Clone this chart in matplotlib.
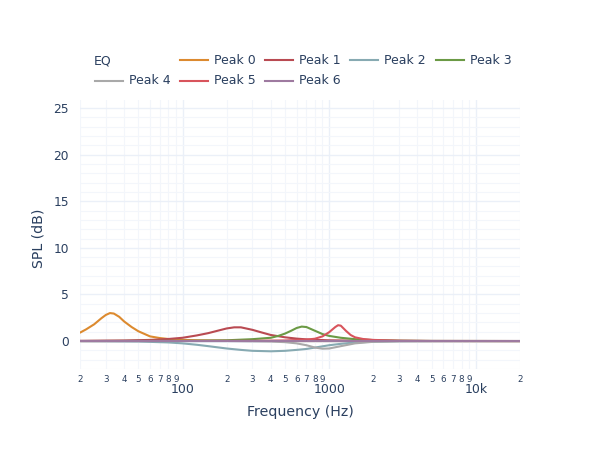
import matplotlib
matplotlib.use("Agg")
from matplotlib import pyplot as plt
from matplotlib.lines import Line2D

# EQ peaks, values (Hz, dB)
peak0_f = [20, 22, 25, 28, 30, 32, 34, 37, 40, 45, 50, 60, 70, 80, 100, 125, 150, 200, 300, 500, 20000]
peak0_db = [0.9, 1.25, 1.8, 2.45, 2.8, 3.0, 2.95, 2.6, 2.1, 1.5, 1.05, 0.5, 0.32, 0.22, 0.13, 0.08, 0.05, 0.03, 0.01, 0.0, 0.0]

peak1_f = [20, 40, 60, 80, 100, 125, 150, 175, 200, 225, 250, 300, 350, 400, 500, 600, 700, 800, 1000, 1500, 2000, 5000, 20000]
peak1_db = [0.02, 0.06, 0.12, 0.22, 0.35, 0.6, 0.85, 1.12, 1.35, 1.47, 1.47, 1.2, 0.9, 0.65, 0.4, 0.26, 0.18, 0.13, 0.08, 0.04, 0.02, 0.0, 0.0]

peak2_f = [20, 50, 80, 100, 125, 150, 200, 250, 300, 400, 500, 600, 700, 800, 1000, 1200, 1500, 2000, 3000, 5000, 20000]
peak2_db = [0.0, -0.05, -0.15, -0.25, -0.4, -0.55, -0.8, -0.95, -1.05, -1.1, -1.05, -0.95, -0.85, -0.7, -0.45, -0.3, -0.15, -0.07, -0.02, 0.0, 0.0]

peak3_f = [20, 100, 200, 300, 400, 450, 500, 550, 600, 650, 700, 800, 900, 1000, 1200, 1500, 2000, 3000, 5000, 20000]
peak3_db = [0.0, 0.02, 0.08, 0.2, 0.35, 0.55, 0.8, 1.1, 1.4, 1.55, 1.5, 1.1, 0.75, 0.55, 0.35, 0.2, 0.1, 0.04, 0.01, 0.0]

peak4_f = [20, 200, 400, 500, 600, 700, 800, 900, 1000, 1200, 1500, 2000, 3000, 20000]
peak4_db = [0.0, 0.0, -0.05, -0.12, -0.25, -0.45, -0.7, -0.82, -0.8, -0.55, -0.25, -0.08, -0.02, 0.0]

peak5_f = [20, 300, 500, 700, 800, 900, 1000, 1100, 1150, 1200, 1300, 1400, 1500, 1700, 2000, 3000, 5000, 20000]
peak5_db = [0.0, 0.02, 0.06, 0.15, 0.25, 0.5, 0.95, 1.5, 1.7, 1.65, 1.1, 0.65, 0.4, 0.22, 0.12, 0.04, 0.01, 0.0]

peak6_f = [20, 20000]
peak6_db = [0.0, 0.0]

names = ["Peak 0", "Peak 1", "Peak 2", "Peak 3", "Peak 4", "Peak 5", "Peak 6"]
colors = ["#dc8a2f", "#b94a52", "#87aab2", "#6b9a45", "#a9a9a9", "#d8545c", "#9e7aa0"]

major_ticks = [100, 1000, 10000]
major_labels = ["100", "1000", "10k"]
minor_ticks = [20, 30, 40, 50, 60, 70, 80, 90,
               200, 300, 400, 500, 600, 700, 800, 900,
               2000, 3000, 4000, 5000, 6000, 7000, 8000, 9000, 20000]
minor_labels = ["2", "3", "4", "5", "6", "7", "8", "9"] * 3 + ["2"]
y_ticks = [0, 5, 10, 15, 20, 25]

txt = "#2a3f5f"
grid = "#ebf0f8"

fig = plt.figure(figsize=(6, 4.5), dpi=100)
ax = fig.add_axes([80 / 600, 1 - 369 / 450, 440 / 600, 269 / 450])

curves = [(peak0_f, peak0_db), (peak1_f, peak1_db), (peak2_f, peak2_db), (peak3_f, peak3_db),
          (peak4_f, peak4_db), (peak5_f, peak5_db), (peak6_f, peak6_db)]
for (f, db), name, c in zip(curves, names, colors):
    ax.plot(f, db, color=c, lw=1.5, label=name, solid_capstyle="round", zorder=3)

ax.set_xscale("log")
ax.set_xlim(20, 20000)
ax.set_ylim(-3.0, 25.86)

ax.set_xticks(major_ticks)
ax.set_xticklabels(major_labels)
ax.set_xticks(minor_ticks, minor=True)
ax.set_xticklabels(minor_labels, minor=True)
ax.tick_params(axis="x", which="major", length=0, pad=10, labelsize=9, labelcolor=txt)
ax.tick_params(axis="x", which="minor", length=0, pad=4, labelsize=6.3, labelcolor=txt)

ax.set_yticks(y_ticks)
ax.set_yticks(range(-3, 26), minor=True)
ax.tick_params(axis="y", which="both", length=0, pad=8, labelsize=8.8, labelcolor=txt)

ax.grid(True, which="major", color=grid, lw=1.0, zorder=0)
ax.grid(True, which="minor", color="#f3f6fb", lw=0.8, zorder=0)
ax.axhline(0, color=grid, lw=2, zorder=1)
for s in ax.spines.values():
    s.set_visible(False)

fig.text(300 / 600, 1 - 412 / 450, "Frequency (Hz)", ha="center", va="center", fontsize=10.2, color=txt)
fig.text(38 / 600, 1 - 238 / 450, "SPL (dB)", ha="center", va="center", rotation=90, fontsize=10.2, color=txt)

# legend, laid out like the reference
fig.text(94 / 600, 1 - 61 / 450, "EQ", ha="left", va="center", fontsize=9, color=txt)
legend_pos = [(180, 60), (265, 60), (350, 60), (436, 60), (95, 80.5), (180, 80.5), (265, 80.5)]
for (lx, ly), name, c in zip(legend_pos, names, colors):
    fig.add_artist(Line2D([lx / 600, (lx + 28) / 600], [1 - ly / 450, 1 - ly / 450],
                          color=c, lw=1.5, transform=fig.transFigure))
    fig.text((lx + 34) / 600, 1 - ly / 450, name, ha="left", va="center", fontsize=9, color=txt)

fig.savefig("out.png", dpi=100, facecolor="white")
